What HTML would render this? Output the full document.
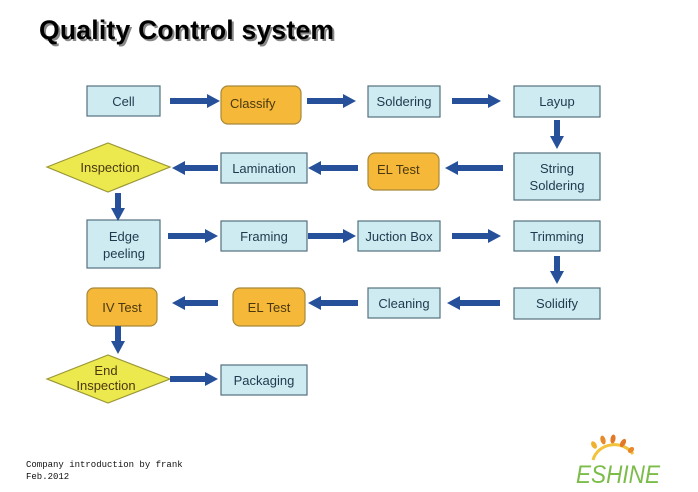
<!DOCTYPE html>
<html><head><meta charset="utf-8"><style>
html,body{margin:0;padding:0;background:#fff;}
svg{display:block;}
.b{fill:#cdebf0;stroke:#55707f;stroke-width:1.2;}
.o{fill:#f5b838;stroke:#a8893a;stroke-width:1.2;}
.d{fill:#ece94e;stroke:#9a9636;stroke-width:1.2;}
.a{fill:#26509a;}
text{font-family:"Liberation Sans",sans-serif;font-size:13px;fill:#1f3a4e;}
.t2{fill:#4a3810;}
</style></head><body>
<svg width="698" height="492" viewBox="0 0 698 492" xmlns="http://www.w3.org/2000/svg">
<text x="41" y="41" style="font-size:26.5px;font-weight:bold;fill:#888" textLength="295">Quality Control system</text>
<text x="39" y="39" style="font-size:26.5px;font-weight:bold;fill:#000" textLength="295">Quality Control system</text>

<rect class="b" x="87" y="86" width="73" height="30"/><text x="123.5" y="106" text-anchor="middle">Cell</text>
<rect class="o" x="221" y="86" width="80" height="38" rx="7"/><text x="230" y="108" class="t2">Classify</text>
<rect class="b" x="368" y="86" width="72" height="31"/><text x="404" y="106" text-anchor="middle">Soldering</text>
<rect class="b" x="514" y="86" width="86" height="31"/><text x="557" y="106" text-anchor="middle">Layup</text>

<polygon class="d" points="47,167 108,143 170,167 108,192"/><text x="110" y="172" text-anchor="middle" class="t2">Inspection</text>
<rect class="b" x="221" y="153" width="86" height="30"/><text x="264" y="173" text-anchor="middle">Lamination</text>
<rect class="o" x="368" y="153" width="71" height="37" rx="7"/><text x="377" y="174" class="t2">EL Test</text>
<rect class="b" x="514" y="153" width="86" height="47"/><text x="557" y="173" text-anchor="middle">String</text><text x="557" y="190" text-anchor="middle">Soldering</text>

<rect class="b" x="87" y="220" width="73" height="48"/><text x="124" y="241" text-anchor="middle">Edge</text><text x="124" y="258" text-anchor="middle">peeling</text>
<rect class="b" x="221" y="221" width="86" height="30"/><text x="264" y="241" text-anchor="middle">Framing</text>
<rect class="b" x="358" y="221" width="82" height="30"/><text x="399" y="241" text-anchor="middle">Juction Box</text>
<rect class="b" x="514" y="221" width="86" height="30"/><text x="557" y="241" text-anchor="middle">Trimming</text>

<rect class="o" x="87" y="288" width="70" height="38" rx="7"/><text x="122" y="312" text-anchor="middle" class="t2">IV Test</text>
<rect class="o" x="233" y="288" width="72" height="38" rx="7"/><text x="269" y="312" text-anchor="middle" class="t2">EL Test</text>
<rect class="b" x="368" y="288" width="72" height="30"/><text x="404" y="308" text-anchor="middle">Cleaning</text>
<rect class="b" x="514" y="288" width="86" height="31"/><text x="557" y="308" text-anchor="middle">Solidify</text>

<polygon class="d" points="47,379 108,355 170,379 108,403"/><text x="106" y="375" text-anchor="middle" class="t2">End</text><text x="106" y="390" text-anchor="middle" class="t2">Inspection</text>
<rect class="b" x="221" y="365" width="86" height="30"/><text x="264" y="385" text-anchor="middle">Packaging</text>

<g class="a">
<path d="M170,98 H207 V94 L220,101 L207,108 V104 H170Z"/>
<path d="M307,98 H343 V94 L356,101 L343,108 V104 H307Z"/>
<path d="M452,98 H488 V94 L501,101 L488,108 V104 H452Z"/>
<path d="M168,233 H205 V229 L218,236 L205,243 V239 H168Z"/>
<path d="M308,233 H343 V229 L356,236 L343,243 V239 H308Z"/>
<path d="M452,233 H488 V229 L501,236 L488,243 V239 H452Z"/>
<path d="M170,376 H205 V372 L218,379 L205,386 V382 H170Z"/>
<path d="M218,165 H185 V161 L172,168 L185,175 V171 H218Z"/>
<path d="M358,165 H321 V161 L308,168 L321,175 V171 H358Z"/>
<path d="M503,165 H458 V161 L445,168 L458,175 V171 H503Z"/>
<path d="M218,300 H185 V296 L172,303 L185,310 V306 H218Z"/>
<path d="M358,300 H321 V296 L308,303 L321,310 V306 H358Z"/>
<path d="M500,300 H460 V296 L447,303 L460,310 V306 H500Z"/>
<path d="M554,120 V136 H550 L557,149 L564,136 H560 V120Z"/>
<path d="M115,193 V208 H111 L118,221 L125,208 H121 V193Z"/>
<path d="M554,256 V271 H550 L557,284 L564,271 H560 V256Z"/>
<path d="M115,326 V341 H111 L118,354 L125,341 H121 V326Z"/>
</g>

<text x="26" y="467" style="font-family:'Liberation Mono',monospace;font-size:9px;fill:#111">Company introduction by frank</text>
<text x="26" y="479" style="font-family:'Liberation Mono',monospace;font-size:9px;fill:#111">Feb.2012</text>

<g>
<path d="M593,460 A22,20 0 0 1 633,454" fill="none" stroke="#f2c23a" stroke-width="3"/>
<ellipse cx="594" cy="445" rx="2.5" ry="4" fill="#f0b030" transform="rotate(-30 594 445)"/>
<ellipse cx="603" cy="440" rx="2.5" ry="4.5" fill="#e8892a" transform="rotate(-15 603 440)"/>
<ellipse cx="613" cy="439" rx="2.5" ry="4.5" fill="#e07a28" transform="rotate(10 613 439)"/>
<ellipse cx="623" cy="443" rx="2.5" ry="4.5" fill="#e07a28" transform="rotate(30 623 443)"/>
<ellipse cx="631" cy="450" rx="2.5" ry="3.5" fill="#e8892a" transform="rotate(50 631 450)"/>
<text x="576" y="483" style="font-size:25px;font-style:italic;fill:#7cbc4a" textLength="84" lengthAdjust="spacingAndGlyphs">ESHINE</text>
</g>
</svg>
</body></html>
